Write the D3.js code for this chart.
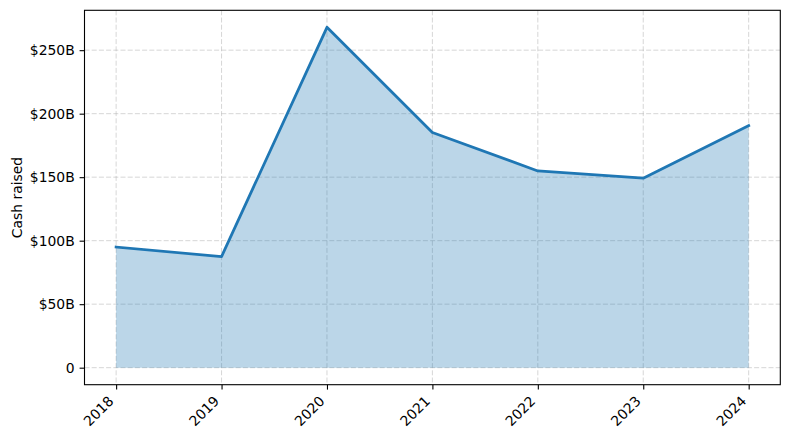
<!DOCTYPE html>
<html>
<head>
<meta charset="utf-8">
<script src="https://cdn.jsdelivr.net/npm/d3@7.9.0/dist/d3.min.js"></script>
<style>
  body { margin: 0; background: #fff; }
  svg { display: block; }
  svg text { font-family: 'DejaVu Sans', sans-serif; }
</style>
</head>
<body>
<svg id="chart" width="790" height="440"></svg>
<script>
const years = [2018, 2019, 2020, 2021, 2022, 2023, 2024];
const cashRaised = [95.0, 87.5, 268.0, 185.2, 154.9, 149.2, 190.6]; // billions USD
const yTicks = [0, 50, 100, 150, 200, 250];

const data = years.map((year, i) => ({ year, value: cashRaised[i] }));

const margin = { top: 10.3, right: 9.7, bottom: 55.3, left: 84.5 };
const width = 790, height = 440;

const svg = d3.select('#chart');

// matplotlib-style 5% padding
const xPad = (d3.max(years) - d3.min(years)) * 0.05;
const yMax = d3.max(cashRaised);
const yPad = yMax * 0.05;

const x = d3.scaleLinear()
  .domain([d3.min(years) - xPad, d3.max(years) + xPad])
  .range([margin.left, width - margin.right]);

const y = d3.scaleLinear()
  .domain([-yPad, yMax + yPad])
  .range([height - margin.bottom, margin.top]);

// grid
const grid = svg.append('g')
  .attr('stroke', '#b0b0b0')
  .attr('stroke-opacity', 0.5)
  .attr('stroke-width', 1)
  .attr('stroke-dasharray', '5,2.2');

grid.selectAll('.vg').data(years).join('line')
  .attr('x1', d => x(d)).attr('x2', d => x(d))
  .attr('y1', margin.top).attr('y2', height - margin.bottom);

grid.selectAll('.hg').data(yTicks).join('line')
  .attr('x1', margin.left).attr('x2', width - margin.right)
  .attr('y1', d => y(d)).attr('y2', d => y(d));

// area + line
const area = d3.area()
  .x(d => x(d.year))
  .y0(y(0))
  .y1(d => y(d.value));

const line = d3.line()
  .x(d => x(d.year))
  .y(d => y(d.value));

svg.append('path')
  .datum(data)
  .attr('d', area)
  .attr('fill', '#1f77b4')
  .attr('fill-opacity', 0.3);

svg.append('path')
  .datum(data)
  .attr('d', line)
  .attr('fill', 'none')
  .attr('stroke', '#1f77b4')
  .attr('stroke-width', 2.8)
  .attr('stroke-linejoin', 'round')
  .attr('stroke-linecap', 'square');

// axes
const xAxis = svg.append('g')
  .attr('transform', `translate(0,${height - margin.bottom})`)
  .call(d3.axisBottom(x).tickValues(years).tickFormat(d3.format('d')).tickSize(4.9).tickSizeOuter(0));

xAxis.attr('font-family', null).attr('font-size', null);
xAxis.selectAll('text')
  .attr('font-size', 13.9)
  .attr('fill', '#000')
  .attr('text-anchor', 'end')
  .attr('dy', null)
  .attr('y', null)
  .attr('transform', 'translate(-2,17.3) rotate(-45)');

const yAxis = svg.append('g')
  .attr('transform', `translate(${margin.left},0)`)
  .call(d3.axisLeft(y).tickValues(yTicks).tickFormat(d => d === 0 ? '0' : `$${d}B`).tickSize(4.9).tickSizeOuter(0));

yAxis.attr('font-family', null).attr('font-size', null);
yAxis.selectAll('text')
  .attr('font-size', 13.9)
  .attr('fill', '#000')
  .attr('x', -9.8);

svg.selectAll('.tick line').attr('stroke', '#000').attr('stroke-width', 1.1);
svg.selectAll('.domain').remove();

// frame
svg.append('rect')
  .attr('x', margin.left)
  .attr('y', margin.top)
  .attr('width', width - margin.left - margin.right)
  .attr('height', height - margin.top - margin.bottom)
  .attr('fill', 'none')
  .attr('stroke', '#000')
  .attr('stroke-width', 1.1);

svg.append('text')
  .attr('transform', `translate(22,${(margin.top + height - margin.bottom) / 2}) rotate(-90)`)
  .attr('text-anchor', 'middle')
  .attr('font-size', 13.9)
  .text('Cash raised');
</script>
</body>
</html>
